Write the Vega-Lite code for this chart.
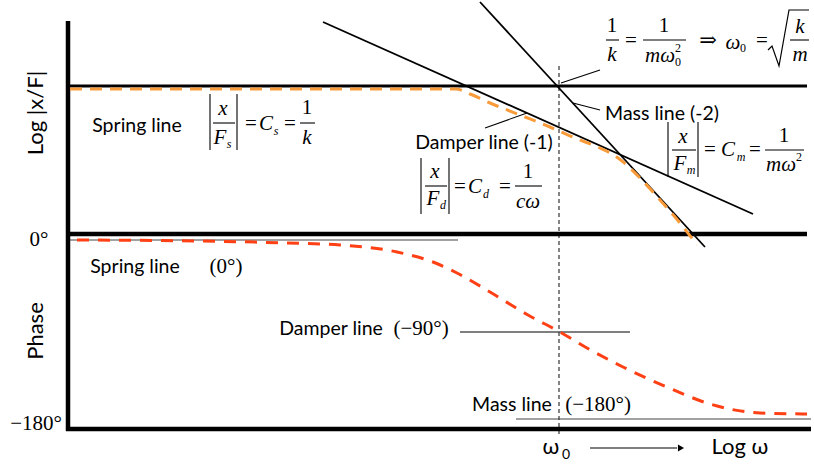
{
  "$schema": "https://vega.github.io/schema/vega-lite/v6.json",
  "width": 814,
  "height": 464,
  "autosize": {"type": "fit", "contains": "padding"},
  "padding": 0,
  "background": "white",
  "config": {"view": {"stroke": null}},
  "datasets": {
    "frame": [
      {"x": 68, "y": 21, "x2": 68, "y2": 431},
      {"x": 66, "y": 234, "x2": 807, "y2": 234},
      {"x": 66, "y": 429, "x2": 811, "y2": 429}
    ],
    "springAsymptote": [
      {"x": 68, "y": 86, "x2": 807, "y2": 86}
    ],
    "asymptotes": [
      {"name": "damper", "x": 323, "y": 22, "x2": 753, "y2": 214},
      {"name": "mass", "x": 480, "y": 2, "x2": 705, "y2": 247}
    ],
    "thin": [
      {"name": "phase damper", "x": 460, "y": 332, "x2": 630, "y2": 332},
      {"name": "leader damper", "x": 485, "y": 128, "x2": 527, "y2": 113},
      {"name": "leader mass", "x": 573, "y": 103, "x2": 600, "y2": 110},
      {"name": "leader omega0", "x": 561, "y": 83, "x2": 600, "y2": 70},
      {"name": "arrow", "x": 590, "y": 448, "x2": 677, "y2": 448},
      {"name": "abs Fs left", "x": 210, "y": 94, "x2": 210, "y2": 150},
      {"name": "abs Fs right", "x": 237, "y": 94, "x2": 237, "y2": 150},
      {"name": "frac x/Fs", "x": 213, "y": 123, "x2": 235, "y2": 123},
      {"name": "frac 1/k", "x": 300, "y": 123, "x2": 315, "y2": 123},
      {"name": "abs Fd left", "x": 421, "y": 158, "x2": 421, "y2": 214},
      {"name": "abs Fd right", "x": 449, "y": 158, "x2": 449, "y2": 214},
      {"name": "frac x/Fd", "x": 425, "y": 186, "x2": 447, "y2": 186},
      {"name": "frac 1/cw", "x": 515, "y": 186, "x2": 542, "y2": 186},
      {"name": "abs Fm left", "x": 668, "y": 122, "x2": 668, "y2": 177},
      {"name": "abs Fm right", "x": 698, "y": 122, "x2": 698, "y2": 177},
      {"name": "frac x/Fm", "x": 672, "y": 150, "x2": 696, "y2": 150},
      {"name": "frac 1/mw2", "x": 765, "y": 150, "x2": 804, "y2": 150},
      {"name": "frac 1/k top", "x": 606, "y": 40, "x2": 619, "y2": 40},
      {"name": "frac 1/mw0", "x": 643, "y": 40, "x2": 686, "y2": 40},
      {"name": "frac k/m", "x": 790, "y": 40, "x2": 809, "y2": 40}
    ],
    "greyRefs": [
      {"name": "phase spring", "x": 70, "y": 240, "x2": 458, "y2": 240},
      {"name": "phase mass", "x": 516, "y": 419, "x2": 811, "y2": 419}
    ],
    "omegaMarker": [
      {"x": 559, "y": 66, "x2": 559, "y2": 434}
    ],
    "radical": [
      {"i": 1, "x": 768, "y": 50},
      {"i": 2, "x": 772, "y": 46},
      {"i": 3, "x": 779, "y": 66},
      {"i": 4, "x": 789, "y": 10},
      {"i": 5, "x": 809, "y": 10}
    ],
    "arrowHead": [
      {"x": 681, "y": 448}
    ],
    "magnitude": [
      {"i": 1, "x": 70, "y": 89},
      {"i": 2, "x": 456, "y": 89},
      {"i": 3, "x": 470, "y": 94},
      {"i": 4, "x": 490, "y": 103},
      {"i": 5, "x": 520, "y": 115},
      {"i": 6, "x": 550, "y": 127},
      {"i": 7, "x": 575, "y": 138},
      {"i": 8, "x": 600, "y": 148},
      {"i": 9, "x": 612, "y": 154},
      {"i": 10, "x": 622, "y": 161},
      {"i": 11, "x": 640, "y": 178},
      {"i": 12, "x": 660, "y": 200},
      {"i": 13, "x": 680, "y": 223},
      {"i": 14, "x": 697, "y": 245}
    ],
    "phase": [
      {"i": 1, "x": 77, "y": 240},
      {"i": 2, "x": 200, "y": 241},
      {"i": 3, "x": 287, "y": 243},
      {"i": 4, "x": 340, "y": 245},
      {"i": 5, "x": 397, "y": 252},
      {"i": 6, "x": 433, "y": 262},
      {"i": 7, "x": 457, "y": 273},
      {"i": 8, "x": 490, "y": 292},
      {"i": 9, "x": 528, "y": 315},
      {"i": 10, "x": 560, "y": 332},
      {"i": 11, "x": 587, "y": 348},
      {"i": 12, "x": 623, "y": 367},
      {"i": 13, "x": 667, "y": 387},
      {"i": 14, "x": 710, "y": 404},
      {"i": 15, "x": 760, "y": 413},
      {"i": 16, "x": 807, "y": 414}
    ],
    "labels": [
      {"x": 137, "y": 126, "text": "Spring line"},
      {"x": 484, "y": 143, "text": "Damper line (-1)"},
      {"x": 662, "y": 114, "text": "Mass line (-2)"},
      {"x": 135, "y": 267, "text": "Spring line"},
      {"x": 331, "y": 329, "text": "Damper line"},
      {"x": 512, "y": 405, "text": "Mass line"}
    ],
    "axisText": [
      {"x": 551, "y": 447, "text": "ω"},
      {"x": 740, "y": 447, "text": "Log ω"}
    ],
    "axisSub": [
      {"x": 566, "y": 455, "text": "0"}
    ],
    "axisTitles": [
      {"x": 36, "y": 113, "text": "Log |x/F|"},
      {"x": 36, "y": 331, "text": "Phase"}
    ],
    "implies": [
      {"x": 708, "y": 41, "text": "⇒"}
    ],
    "mathUp": [
      {"x": 251, "y": 124, "text": "="},
      {"x": 290, "y": 124, "text": "="},
      {"x": 307, "y": 108, "text": "1"},
      {"x": 460, "y": 187, "text": "="},
      {"x": 505, "y": 187, "text": "="},
      {"x": 528, "y": 172, "text": "1"},
      {"x": 710, "y": 150, "text": "="},
      {"x": 755, "y": 150, "text": "="},
      {"x": 784, "y": 136, "text": "1"},
      {"x": 612, "y": 26, "text": "1"},
      {"x": 631, "y": 41, "text": "="},
      {"x": 664, "y": 26, "text": "1"},
      {"x": 762, "y": 41, "text": "="},
      {"x": 226, "y": 267, "text": "(0°)"},
      {"x": 421, "y": 329, "text": "(−90°)"},
      {"x": 598, "y": 405, "text": "(−180°)"},
      {"x": 39, "y": 240, "text": "0°"},
      {"x": 36, "y": 424, "text": "−180°"}
    ],
    "mathIt": [
      {"x": 223, "y": 109, "text": "x"},
      {"x": 220, "y": 138, "text": "F"},
      {"x": 266, "y": 124, "text": "C"},
      {"x": 307, "y": 138, "text": "k"},
      {"x": 435, "y": 172, "text": "x"},
      {"x": 433, "y": 199, "text": "F"},
      {"x": 475, "y": 187, "text": "C"},
      {"x": 528, "y": 202, "text": "cω"},
      {"x": 683, "y": 137, "text": "x"},
      {"x": 680, "y": 164, "text": "F"},
      {"x": 728, "y": 150, "text": "C"},
      {"x": 781, "y": 165, "text": "mω"},
      {"x": 612, "y": 55, "text": "k"},
      {"x": 660, "y": 56, "text": "mω"},
      {"x": 733, "y": 43, "text": "ω"},
      {"x": 800, "y": 27, "text": "k"},
      {"x": 800, "y": 55, "text": "m"}
    ],
    "subIt": [
      {"x": 229, "y": 144, "text": "s"},
      {"x": 276, "y": 131, "text": "s"},
      {"x": 443, "y": 205, "text": "d"},
      {"x": 486, "y": 194, "text": "d"},
      {"x": 691, "y": 170, "text": "m"},
      {"x": 741, "y": 157, "text": "m"}
    ],
    "subUp": [
      {"x": 799, "y": 157, "text": "2"},
      {"x": 678, "y": 62, "text": "0"},
      {"x": 678, "y": 48, "text": "2"},
      {"x": 743, "y": 48, "text": "0"}
    ]
  },
  "encoding": {
    "x": {"field": "x", "type": "quantitative", "scale": {"domain": [0, 814]}, "axis": null},
    "y": {"field": "y", "type": "quantitative", "scale": {"domain": [0, 464], "reverse": true}, "axis": null}
  },
  "layer": [
    {
      "data": {"name": "thin"},
      "mark": {"type": "rule", "color": "black", "strokeWidth": 1.1},
      "encoding": {"x2": {"field": "x2"}, "y2": {"field": "y2"}}
    },
    {
      "data": {"name": "greyRefs"},
      "mark": {"type": "rule", "color": "#444", "strokeWidth": 1.1},
      "encoding": {"x2": {"field": "x2"}, "y2": {"field": "y2"}}
    },
    {
      "data": {"name": "omegaMarker"},
      "mark": {"type": "rule", "color": "#333", "strokeWidth": 1.2, "strokeDash": [4, 3]},
      "encoding": {"x2": {"field": "x2"}, "y2": {"field": "y2"}}
    },
    {
      "data": {"name": "asymptotes"},
      "mark": {"type": "rule", "color": "black", "strokeWidth": 1.8},
      "encoding": {"x2": {"field": "x2"}, "y2": {"field": "y2"}}
    },
    {
      "data": {"name": "springAsymptote"},
      "mark": {"type": "rule", "color": "black", "strokeWidth": 3},
      "encoding": {"x2": {"field": "x2"}, "y2": {"field": "y2"}}
    },
    {
      "data": {"name": "frame"},
      "mark": {"type": "rule", "color": "black", "strokeWidth": 4.5},
      "encoding": {"x2": {"field": "x2"}, "y2": {"field": "y2"}}
    },
    {
      "data": {"name": "magnitude"},
      "mark": {"type": "line", "color": "#f99b3a", "strokeWidth": 3, "strokeDash": [12, 8], "interpolate": "monotone"},
      "encoding": {"order": {"field": "i"}}
    },
    {
      "data": {"name": "phase"},
      "mark": {"type": "line", "color": "#ff3f14", "strokeWidth": 3, "strokeDash": [12, 9], "interpolate": "monotone"},
      "encoding": {"order": {"field": "i"}}
    },
    {
      "data": {"name": "radical"},
      "mark": {"type": "line", "color": "black", "strokeWidth": 1.2},
      "encoding": {"order": {"field": "i"}}
    },
    {
      "data": {"name": "arrowHead"},
      "mark": {"type": "point", "shape": "triangle-right", "filled": true, "color": "black", "size": 50, "opacity": 1},
      "encoding": {}
    },
    {
      "data": {"name": "labels"},
      "mark": {"type": "text", "font": "Lato", "fontSize": 19.5, "color": "black", "align": "center", "baseline": "middle"},
      "encoding": {"text": {"field": "text"}}
    },
    {
      "data": {"name": "axisText"},
      "mark": {"type": "text", "font": "Lato", "fontSize": 22, "color": "black", "align": "center", "baseline": "middle"},
      "encoding": {"text": {"field": "text"}}
    },
    {
      "data": {"name": "axisSub"},
      "mark": {"type": "text", "font": "Lato", "fontSize": 14, "color": "black", "align": "center", "baseline": "middle"},
      "encoding": {"text": {"field": "text"}}
    },
    {
      "data": {"name": "axisTitles"},
      "mark": {"type": "text", "font": "Lato", "fontSize": 22, "color": "black", "align": "center", "baseline": "middle", "angle": 270},
      "encoding": {"text": {"field": "text"}}
    },
    {
      "data": {"name": "implies"},
      "mark": {"type": "text", "font": "DejaVu Serif", "fontSize": 21, "color": "black", "align": "center", "baseline": "middle"},
      "encoding": {"text": {"field": "text"}}
    },
    {
      "data": {"name": "mathUp"},
      "mark": {"type": "text", "font": "Liberation Serif", "fontSize": 21, "color": "black", "align": "center", "baseline": "middle"},
      "encoding": {"text": {"field": "text"}}
    },
    {
      "data": {"name": "mathIt"},
      "mark": {"type": "text", "font": "Liberation Serif", "fontStyle": "italic", "fontSize": 21, "color": "black", "align": "center", "baseline": "middle"},
      "encoding": {"text": {"field": "text"}}
    },
    {
      "data": {"name": "subIt"},
      "mark": {"type": "text", "font": "Liberation Serif", "fontStyle": "italic", "fontSize": 12, "color": "black", "align": "center", "baseline": "middle"},
      "encoding": {"text": {"field": "text"}}
    },
    {
      "data": {"name": "subUp"},
      "mark": {"type": "text", "font": "Liberation Serif", "fontSize": 12, "color": "black", "align": "center", "baseline": "middle"},
      "encoding": {"text": {"field": "text"}}
    }
  ]
}
